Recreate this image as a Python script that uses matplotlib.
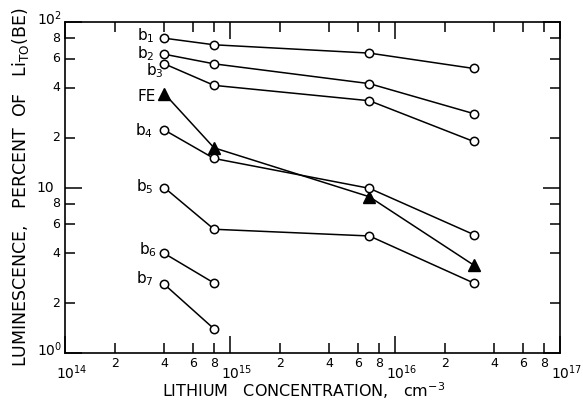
import matplotlib
matplotlib.use("Agg")
import matplotlib.pyplot as plt
from matplotlib.ticker import FixedLocator, NullFormatter
import matplotlib.transforms as mtrans

# lithium concentration, cm^-3
conc = [4e14, 8e14, 7e15, 3e16]

# luminescence, percent of Li_TO(BE)
b1 = [80, 73, 65, 52.5]
b2 = [64, 56, 42.5, 28]
b3 = [56, 41.5, 33.5, 19]
fe = [37, 17.4, 8.8, 3.4]
b4 = [22.3, 15, 9.9, 5.2]
b5 = [10, 5.6, 5.1, 2.65]
b6 = [4.0, 2.65]
b7 = [2.6, 1.4]

series = [
    ("b$_1$", b1, "o", (-10, 3)),
    ("b$_2$", b2, "o", (-10, 1)),
    ("b$_3$", b3, "o", (-1, -7)),
    ("FE", fe, "^", (-8, -3)),
    ("b$_4$", b4, "o", (-11, -1)),
    ("b$_5$", b5, "o", (-11, 1)),
    ("b$_6$", b6, "o", (-7, 4)),
    ("b$_7$", b7, "o", (-11, 6)),
]

xmaj = [1e14, 1e15, 1e16, 1e17]
xmaj_lab = ["$10^{14}$", "$10^{15}$", "$10^{16}$", "$10^{17}$"]
ymaj = [1, 10, 100]
ymaj_lab = ["$10^{0}$", "10", "$10^{2}$"]
minor_mult = [2, 4, 6, 8]

plt.rcParams['font.family'] = ['DejaVu Sans']
plt.rcParams['mathtext.fontset'] = 'dejavusans'

fig = plt.figure(figsize=(5.83, 4.03), dpi=100)
ax = fig.add_axes([0.1115, 0.124, 0.849, 0.821])
ax.set_xscale('log')
ax.set_yscale('log')
ax.set_xlim(1e14, 1e17)
ax.set_ylim(1, 100)

for name, vals, mk, off in series:
    xs = conc[:len(vals)]
    if mk == "o":
        ax.plot(xs, vals, color='black', lw=1.1, marker='o', ms=6,
                mfc='white', mec='black', mew=1.1, zorder=3)
    else:
        ax.plot(xs, vals, color='black', lw=1.1, marker='^', ms=8,
                mfc='black', mec='black', zorder=3)
    ax.annotate(name, (xs[0], vals[0]), xytext=off, textcoords='offset pixels',
                ha='right', va='center', fontsize=11)

# ticks
xmin = [m * 10**e for e in range(14, 17) for m in minor_mult]
ymin = [m * 10**e for e in range(0, 2) for m in minor_mult]
ax.xaxis.set_major_locator(FixedLocator(xmaj))
ax.xaxis.set_minor_locator(FixedLocator(xmin))
ax.yaxis.set_major_locator(FixedLocator(ymaj))
ax.yaxis.set_minor_locator(FixedLocator(ymin))
for a in (ax.xaxis, ax.yaxis):
    a.set_major_formatter(NullFormatter())
    a.set_minor_formatter(NullFormatter())
ax.tick_params(which='major', direction='in', length=12, width=1.1,
               top=True, right=True)
ax.tick_params(which='minor', direction='in', length=7, width=1.1,
               top=True, right=True)
for s in ax.spines.values():
    s.set_linewidth(1.2)

# tick labels drawn by hand to mimic the original lettering
bx = mtrans.blended_transform_factory(ax.transData, ax.transAxes)
by = mtrans.blended_transform_factory(ax.transAxes, ax.transData)
for e in range(14, 17):
    for m in minor_mult:
        ax.text(m * 10**e, -0.012, str(m), transform=bx, ha='center', va='top',
                fontsize=9)
for v, lab in zip(xmaj, xmaj_lab):
    ax.text(v, -0.03, lab, fontsize=10, ha='left', va='top',
            transform=bx + mtrans.Affine2D().translate(-9, 0))
for e in range(0, 2):
    for m in minor_mult:
        ax.text(-0.01, m * 10**e, str(m), transform=by, ha='right', va='center',
                fontsize=9)
for v, lab in zip(ymaj, ymaj_lab):
    if lab == "10":
        ax.text(-0.022, v, lab, fontsize=10, ha='right', va='center',
                transform=by)
    else:
        ax.text(-0.006, v, lab, fontsize=10, ha='right', va='center',
                transform=by + mtrans.Affine2D().translate(0, 3))

fig.text(0.52, 0.004, "LITHIUM   CONCENTRATION,   cm$^{-3}$", ha='center',
         va='bottom', fontsize=11.5)
fig.text(0.036, 0.535,
         r"LUMINESCENCE,   PERCENT  OF   Li$_{\mathregular{TO}}$(BE)",
         ha='center', va='center', rotation=90, fontsize=12.5)

fig.savefig("out.png", dpi=100)
